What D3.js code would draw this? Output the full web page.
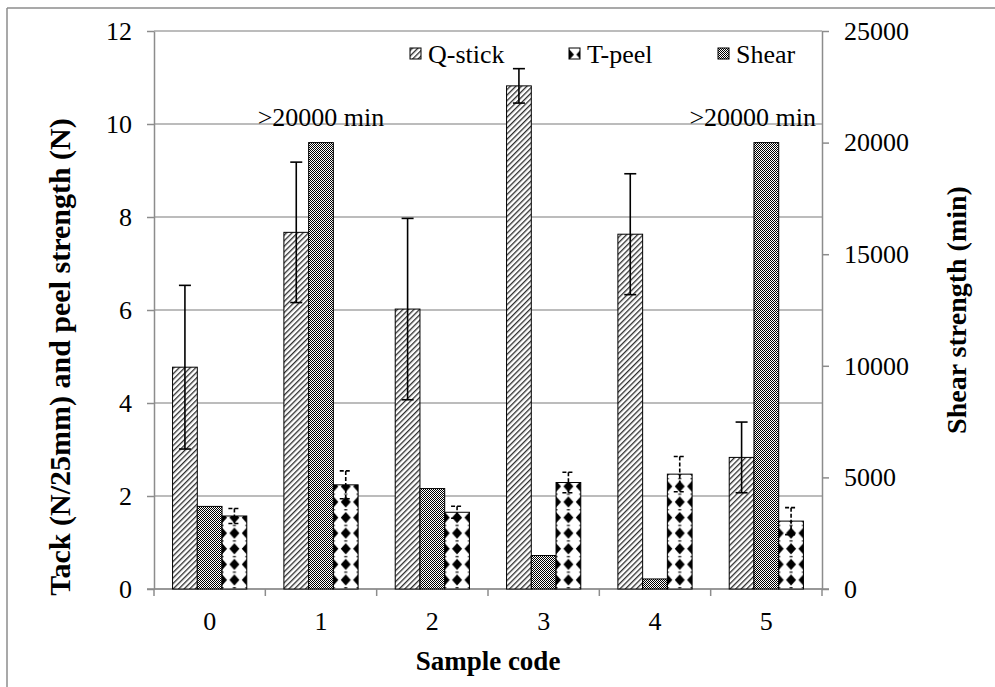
<!DOCTYPE html>
<html>
<head>
<meta charset="utf-8">
<script src="https://cdn.jsdelivr.net/npm/d3@7"></script>
<style>
  body { margin: 0; background: #fff; }
</style>
</head>
<body>
<svg id="chart" width="995" height="687" font-family="'Liberation Serif', 'Times New Roman', serif"></svg>
<script>
// Sample codes on the x axis
const categories = ["0", "1", "2", "3", "4", "5"];
// Tack (Q-stick) in N/25mm with standard deviations
const qstick    = [4.77, 7.67, 6.02, 10.82, 7.63, 2.83];
const qstickErr = [1.76, 1.51, 1.95, 0.37, 1.30, 0.76];
// T-peel strength in N with standard deviations
const tpeel    = [1.57, 2.24, 1.65, 2.29, 2.47, 1.46];
const tpeelErr = [0.16, 0.30, 0.13, 0.22, 0.38, 0.29];
// Shear holding time in minutes (right axis)
const shear = [3700, 20000, 4500, 1500, 450, 20000];
const shearLabels = ["", ">20000 min", "", "", "", ">20000 min"];
// Axis ticks
const leftTicks  = [0, 2, 4, 6, 8, 10, 12];
const rightTicks = [0, 5000, 10000, 15000, 20000, 25000];
const legendNames = ["Q-stick", "T-peel", "Shear"];
const barOrder = ["Q-stick", "Shear", "T-peel"];

const FONT = "'Liberation Serif', 'Times New Roman', serif";
const svg = d3.select("#chart");
const plot = { left: 154, right: 822, top: 31, bottom: 589 };
const GRID = "#a6a6a6", AXIS = "#8c8c8c";

const x = d3.scaleBand().domain(categories).range([plot.left, plot.right]);
const groupW = x.bandwidth() / 1.5;
const inner = d3.scaleBand().domain(barOrder).range([0, groupW]);
const bw = inner.bandwidth();
const yL = d3.scaleLinear().domain([0, 12]).range([plot.bottom, plot.top]);
const yR = d3.scaleLinear().domain([0, 25000]).range([plot.bottom, plot.top]);
const barX = (cat, s) => x(cat) + (x.bandwidth() - groupW) / 2 + inner(s);

// ---- fill patterns ----
const defs = svg.append("defs");
const HS = 3.9;
const hatch = defs.append("pattern").attr("id", "hatch")
  .attr("patternUnits", "userSpaceOnUse").attr("width", HS).attr("height", HS)
  .attr("patternTransform", "rotate(45)");
hatch.append("rect").attr("width", HS).attr("height", HS).attr("fill", "#fff");
hatch.append("line").attr("x1", 0.7).attr("x2", 0.7).attr("y1", 0).attr("y2", HS)
  .attr("stroke", "#111").attr("stroke-width", 1.15);

const checker = defs.append("pattern").attr("id", "checker")
  .attr("patternUnits", "userSpaceOnUse").attr("width", 2).attr("height", 2);
checker.append("rect").attr("width", 2).attr("height", 2).attr("fill", "#fff");
checker.append("rect").attr("width", 1).attr("height", 1).attr("fill", "#000");
checker.append("rect").attr("x", 1).attr("y", 1).attr("width", 1).attr("height", 1).attr("fill", "#000");

function diamondPattern(id, x0, y0) {
  const w = bw / 2, h = 15.6, c = 6.6, rx = 5, ry = 5.6;
  const p = defs.append("pattern").attr("id", id)
    .attr("patternUnits", "userSpaceOnUse")
    .attr("x", x0).attr("y", y0).attr("width", w).attr("height", h);
  p.append("rect").attr("width", w).attr("height", h).attr("fill", "#fff");
  [0, w].forEach(cx => {
    p.append("path")
      .attr("d", `M${cx},${c - ry}L${cx + rx},${c}L${cx},${c + ry}L${cx - rx},${c}Z`)
      .attr("fill", "#000");
    // short dash between diamond rows
    p.append("rect").attr("x", cx - 1.5).attr("y", c + h / 2 - 0.6)
      .attr("width", 3).attr("height", 1.2).attr("fill", "#000");
  });
  return `url(#${id})`;
}

// ---- outer frame ----
svg.append("line").attr("x1", 7).attr("x2", 995).attr("y1", 8).attr("y2", 8)
  .attr("stroke", AXIS).attr("stroke-width", 1.5);
svg.append("line").attr("x1", 7).attr("x2", 7).attr("y1", 8).attr("y2", 687)
  .attr("stroke", AXIS).attr("stroke-width", 1.5);

// ---- gridlines ----
svg.append("g").selectAll("line").data(leftTicks).join("line")
  .attr("x1", plot.left).attr("x2", plot.right)
  .attr("y1", d => yL(d)).attr("y2", d => yL(d))
  .attr("stroke", GRID).attr("stroke-width", 1.5);

// ---- axes ----
function styleAxis(g) {
  g.attr("font-family", FONT).attr("font-size", 26);
  g.selectAll("path.domain").attr("stroke", AXIS).attr("stroke-width", 1.5);
  g.selectAll(".tick line").attr("stroke", AXIS).attr("stroke-width", 1.5);
  g.selectAll("text").attr("font-family", FONT).attr("font-size", 26).attr("fill", "#000");
}
svg.append("g").attr("transform", `translate(${plot.left},0)`)
  .call(d3.axisLeft(yL).tickValues(leftTicks).tickSize(7).tickSizeOuter(0).tickPadding(15))
  .call(styleAxis);
svg.append("g").attr("transform", `translate(${plot.right},0)`)
  .call(d3.axisRight(yR).tickValues(rightTicks).tickFormat(d3.format("d"))
    .tickSize(7).tickSizeOuter(0).tickPadding(15))
  .call(styleAxis);
const xAxis = svg.append("g").attr("transform", `translate(0,${plot.bottom})`)
  .call(d3.axisBottom(x).tickSize(0).tickSizeOuter(0).tickPadding(23))
  .call(styleAxis);
xAxis.selectAll("path.domain").remove();
svg.append("line").attr("x1", plot.left - 7).attr("x2", plot.right + 7)
  .attr("y1", plot.bottom).attr("y2", plot.bottom)
  .attr("stroke", AXIS).attr("stroke-width", 1.5);
const bounds = categories.map(c => x(c)).concat([x(categories[categories.length - 1]) + x.bandwidth()]);
svg.append("g").selectAll("line").data(bounds).join("line")
  .attr("x1", d => d).attr("x2", d => d)
  .attr("y1", plot.bottom).attr("y2", plot.bottom + 7)
  .attr("stroke", AXIS).attr("stroke-width", 1.5);

// ---- bars ----
const bars = svg.append("g");
bars.selectAll("rect.q").data(qstick).join("rect").attr("class", "q")
  .attr("x", (d, i) => barX(categories[i], "Q-stick")).attr("width", bw)
  .attr("y", d => yL(d)).attr("height", d => yL(0) - yL(d))
  .attr("fill", "url(#hatch)").attr("stroke", "#000").attr("stroke-width", 1);
bars.selectAll("rect.s").data(shear).join("rect").attr("class", "s")
  .attr("x", (d, i) => barX(categories[i], "Shear")).attr("width", bw)
  .attr("y", d => yR(d)).attr("height", d => yR(0) - yR(d))
  .attr("fill", "url(#checker)").attr("stroke", "#000").attr("stroke-width", 1);
bars.selectAll("rect.t").data(tpeel).join("rect").attr("class", "t")
  .attr("x", (d, i) => barX(categories[i], "T-peel")).attr("width", bw)
  .attr("y", d => yL(d)).attr("height", d => yL(0) - yL(d))
  .attr("fill", (d, i) => diamondPattern("dia" + i, barX(categories[i], "T-peel"), plot.bottom))
  .attr("stroke", "#000").attr("stroke-width", 1);

// ---- error bars ----
function errorBars(vals, errs, series, dash) {
  const g = svg.append("g").attr("stroke", "#000").attr("stroke-width", 1.6);
  if (dash) g.attr("stroke-dasharray", dash);
  vals.forEach((v, i) => {
    const cx = barX(categories[i], series) + bw / 2;
    const hi = yL(v + errs[i]), lo = yL(v - errs[i]);
    g.append("line").attr("x1", cx).attr("x2", cx).attr("y1", hi).attr("y2", lo);
    [hi, lo].forEach(yy => g.append("line")
      .attr("x1", cx - 6).attr("x2", cx + 6).attr("y1", yy).attr("y2", yy));
  });
}
errorBars(qstick, qstickErr, "Q-stick", null);
errorBars(tpeel, tpeelErr, "T-peel", "4,2");

// ---- ">20000 min" labels over the shear bars ----
svg.append("g").selectAll("text").data(shear).join("text")
  .text((d, i) => shearLabels[i])
  .attr("font-family", FONT).attr("font-size", 26).attr("text-anchor", "middle")
  .attr("y", d => yR(d) - 17)
  .attr("x", function (d, i) {
    const cx = barX(categories[i], "Shear") + bw / 2;
    const w = this.getComputedTextLength();
    return Math.min(cx, plot.right - 6 - w / 2);
  });

// ---- legend ----
const legendX = [410, 569, 718];
const legendFill = {
  "Q-stick": "url(#hatch)",
  "Shear": "url(#checker)",
  "T-peel": diamondPattern("diaLegend", 569, 48)
};
const lg = svg.append("g").selectAll("g").data(legendNames).join("g")
  .attr("transform", (d, i) => `translate(${legendX[i]},0)`);
lg.append("rect").attr("x", 0).attr("y", 48).attr("width", 11).attr("height", 11)
  .attr("fill", d => legendFill[d]).attr("stroke", "#000").attr("stroke-width", 1);
lg.append("text").attr("x", 18).attr("y", 63)
  .attr("font-family", FONT).attr("font-size", 26).text(d => d);

// ---- axis titles ----
svg.append("text").attr("transform", `translate(70,357) rotate(-90)`)
  .attr("text-anchor", "middle").attr("font-family", FONT)
  .attr("font-size", 30).attr("font-weight", "bold")
  .text("Tack (N/25mm) and peel strength (N)");
svg.append("text").attr("transform", `translate(966,${(plot.top + plot.bottom) / 2}) rotate(-90)`)
  .attr("text-anchor", "middle").attr("font-family", FONT)
  .attr("font-size", 28).attr("font-weight", "bold")
  .text("Shear strength (min)");
svg.append("text").attr("x", (plot.left + plot.right) / 2).attr("y", 670)
  .attr("text-anchor", "middle").attr("font-family", FONT)
  .attr("font-size", 27).attr("font-weight", "bold")
  .text("Sample code");
</script>
</body>
</html>
